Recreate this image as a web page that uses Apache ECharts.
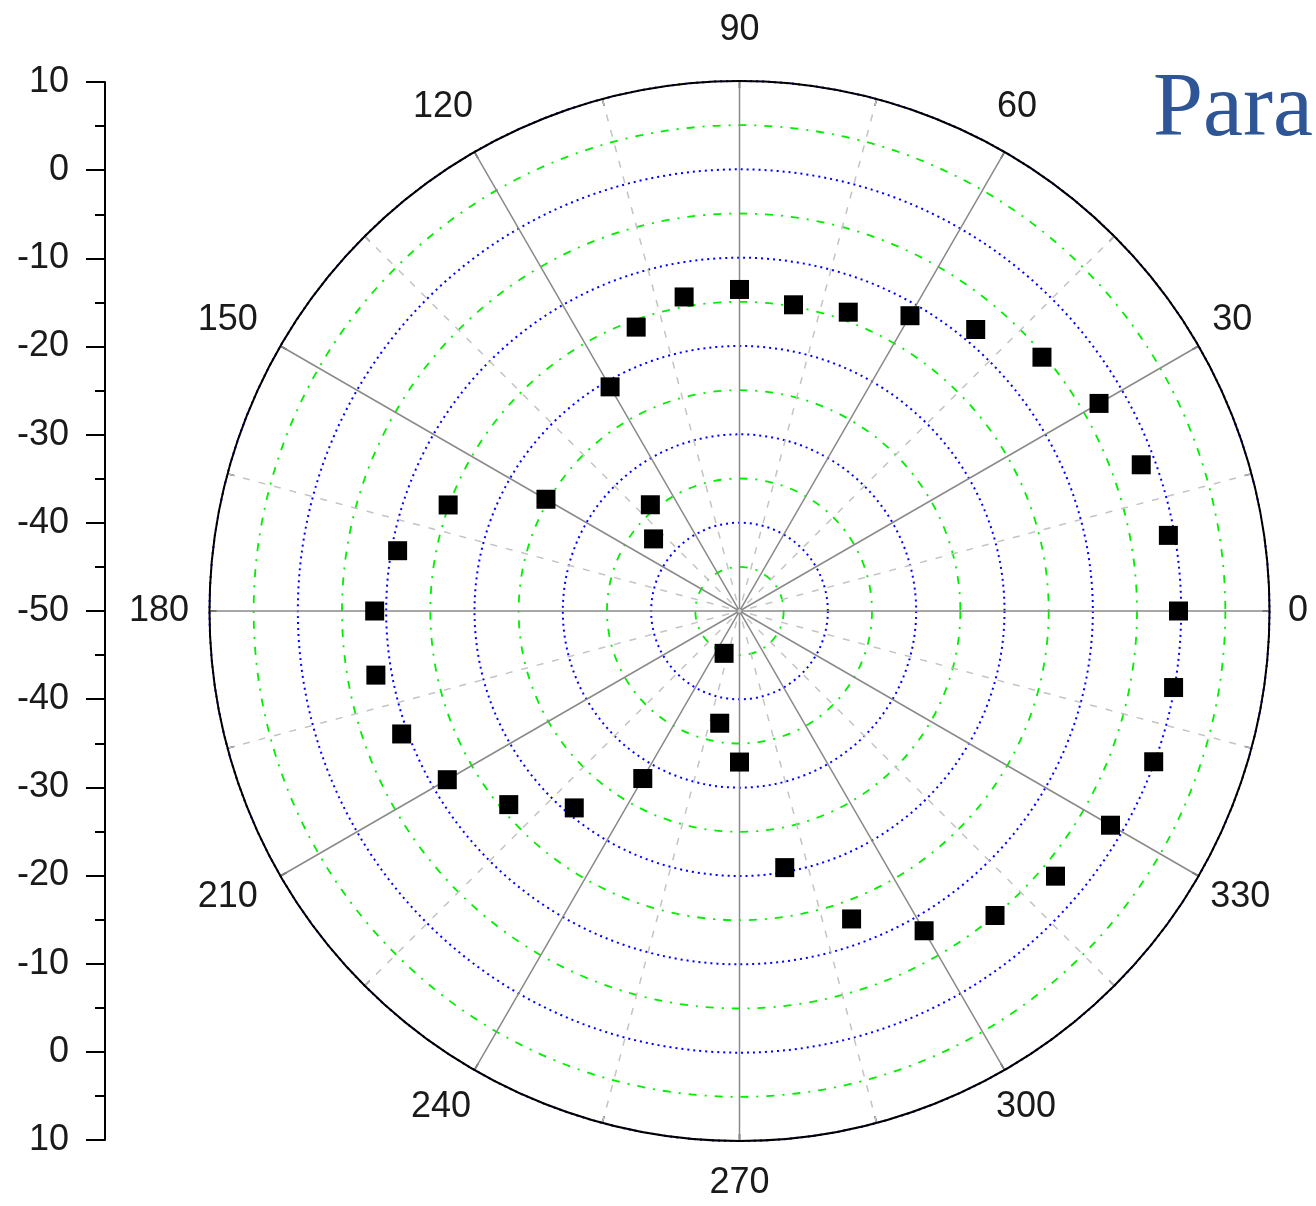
<!DOCTYPE html>
<html>
<head>
<meta charset="utf-8">
<script src="https://cdn.jsdelivr.net/npm/echarts@6/dist/echarts.min.js"></script>
<style>html,body{margin:0;padding:0;background:#fff}#c{width:1316px;height:1206px}</style>
</head>
<body>
<div id="c"></div>
<script>
// Data (angle in degrees, radius value)
const angles = [0,10,20,30,40,50,60,70,80,90,100,110,120,130,140,150,160,170,180,190,200,210,220,230,240,250,260,270,280,290,300,310,320,330,340,350];
const radii  = [-0.3,-0.7,-1.6,-3.0,-5.3,-8.4,-11.4,-14.0,-14.8,-13.6,-13.9,-15.8,-20.7,-34.3,-37.3,-24.7,-14.9,-10.7,-8.7,-8.2,-9.3,-11.8,-15.9,-20.9,-28.1,-44.9,-37.1,-32.9,-20.5,-12.9,-8.2,-5.0,-3.3,-1.5,-0.1,-0.1];
const angleTicks = [0,30,60,90,120,150,180,210,240,270,300,330];
const leftTicks = [10,0,-10,-20,-30,-40,-50,-40,-30,-20,-10,0,10];
const titleText = 'Para';

// label box styling per angle label (box width / line height, text centered in box)
const labelBox = {
  0:[97,36], 30:[102,72], 60:[45,125], 90:[60,142], 120:[83,125], 150:[140,72],
  180:[141,36], 210:[140,62], 240:[87,109], 270:[70,124], 300:[63,109], 330:[118,62]
};
const rich = {};
angleTicks.forEach(function(v){
  rich['a'+v] = {width:labelBox[v][0], lineHeight:labelBox[v][1], height:labelBox[v][1], align:'center',
    fontFamily:'Liberation Sans, Arial, sans-serif', fontSize:36, color:'#1a1a1a'};
});

const chart = echarts.init(document.getElementById('c'), null, {renderer:'canvas'});
const labelFont = {fontFamily:'Liberation Sans, Arial, sans-serif', fontSize:36, color:'#1a1a1a'};

chart.setOption({
  animation:false,
  backgroundColor:'#fff',
  graphic:[{
    type:'text', left:1153, top:66, z:10,
    style:{text:titleText, font:'90px "Liberation Serif", serif', fill:'#2e5596'}
  }],
  polar:{center:[739.5,611], radius:530},
  angleAxis:{
    type:'value', min:0, max:360, interval:30, startAngle:0, clockwise:false,
    axisLine:{show:true, lineStyle:{color:'#000', width:2}},
    axisTick:{show:true, inside:true, length:7, lineStyle:{color:'#000', width:1.5}},
    minorTick:{show:true, splitNumber:2, length:7, lineStyle:{color:'#000', width:1.5}},
    axisLabel:Object.assign({margin:-20, rich:rich,
      formatter:function(v){ if(angleTicks.indexOf(v)<0) return ''; return '{a'+v+'|'+v+'}';}}, labelFont),
    splitLine:{show:true, lineStyle:{color:'#8a8a8a', width:1.5}},
    minorSplitLine:{show:true, lineStyle:{color:'#c4c4c4', width:1.5, type:[7,9]}}
  },
  radiusAxis:{
    type:'value', min:-50, max:10, interval:10,
    axisLine:{show:false}, axisTick:{show:false}, axisLabel:{show:false},
    splitLine:{show:true, lineStyle:{color:'#0000ff', width:2, type:[2,4]}},
    minorTick:{show:false, splitNumber:2},
    minorSplitLine:{show:true, lineStyle:{color:'#00ee00', width:1.8, type:[8,8,2,8]}}
  },
  grid:{left:105, top:82, height:1058, width:10, show:false},
  xAxis:{type:'value', show:false, min:0, max:1},
  yAxis:{
    type:'value', min:-60, max:60, interval:10, position:'left',
    axisLine:{show:true, lineStyle:{color:'#000', width:2}},
    axisTick:{show:true, inside:false, length:19, lineStyle:{color:'#000', width:2}},
    minorTick:{show:true, splitNumber:2, length:10, lineStyle:{color:'#000', width:2}},
    splitLine:{show:false},
    axisLabel:Object.assign({margin:36, formatter:function(v){const i=Math.round((60-v)/10); return String(leftTicks[i]);}}, labelFont)
  },
  series:[{
    type:'scatter', coordinateSystem:'polar', symbol:'rect', symbolSize:19,
    itemStyle:{color:'#000', opacity:1},
    data: angles.map((a,i)=>[radii[i], a])
  }]
});
</script>
</body>
</html>
